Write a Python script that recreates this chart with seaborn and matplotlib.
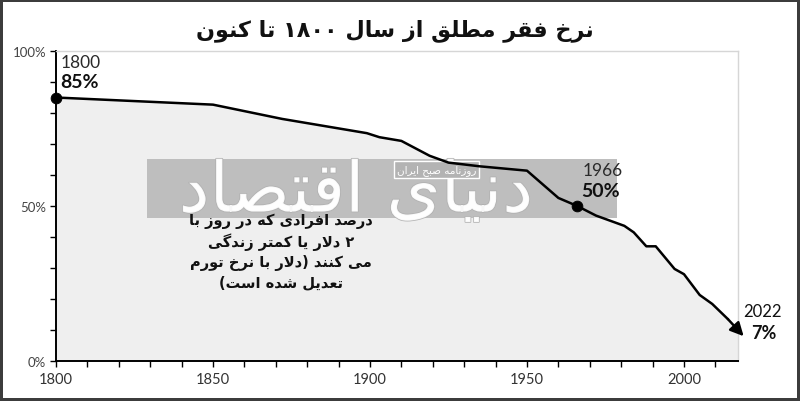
import re
import matplotlib
matplotlib.use('Agg')
import matplotlib.pyplot as plt
import matplotlib.patheffects as pe
from matplotlib.patches import Rectangle
from matplotlib.ticker import MultipleLocator, FuncFormatter
import seaborn as sns
import pandas as pd

# داده ها (خوانده شده از تصویر)
years = [1800, 1850, 1872, 1899, 1903, 1910, 1919, 1925, 1935, 1950, 1960, 1966,
         1972, 1981, 1984, 1988, 1991, 1997, 2000, 2005, 2009, 2014, 2019]
poverty = [85, 82.7, 78.1, 73.5, 72.2, 71, 66.2, 64, 62.8, 61.4, 52.6, 50,
           46.9, 43.6, 41.5, 37, 37, 29.7, 28, 21.3, 18.4, 13.5, 8]
marked_years = [1800, 1966]
marked_values = [85, 50]
marked_labels = ['1800', '1966']
marked_pcts = ['85%', '50%']
end_label = '2022'
end_pct = '7%'
x_ticks = [1800, 1850, 1900, 1950, 2000]
y_ticks = [0, 50, 100]

title = 'نرخ فقر مطلق از سال ۱۸۰۰ تا کنون'
note = 'درصد افرادی که در روز با\n۲ دلار یا کمتر زندگی\nمی کنند (دلار با نرخ تورم\nتعدیل شده است)'
wm_big = 'دنیای اقتصاد'
wm_small = 'روزنامه صبح ایران'

# شکل دهی ساده حروف فارسی (matplotlib خودش این کار را نمی کند)
DUAL = {
    'ب': 'ﺏﺐﺑﺒ', 'پ': 'ﭖﭗﭘﭙ', 'ت': 'ﺕﺖﺗﺘ', 'ث': 'ﺙﺚﺛﺜ', 'ج': 'ﺝﺞﺟﺠ',
    'چ': 'ﭺﭻﭼﭽ', 'ح': 'ﺡﺢﺣﺤ', 'خ': 'ﺥﺦﺧﺨ', 'س': 'ﺱﺲﺳﺴ', 'ش': 'ﺵﺶﺷﺸ',
    'ص': 'ﺹﺺﺻﺼ', 'ض': 'ﺽﺾﺿﻀ', 'ط': 'ﻁﻂﻃﻄ', 'ظ': 'ﻅﻆﻇﻈ', 'ع': 'ﻉﻊﻋﻌ',
    'غ': 'ﻍﻎﻏﻐ', 'ف': 'ﻑﻒﻓﻔ', 'ق': 'ﻕﻖﻗﻘ', 'ک': 'ﮎﮏﮐﮑ', 'گ': 'ﮒﮓﮔﮕ',
    'ل': 'ﻝﻞﻟﻠ', 'م': 'ﻡﻢﻣﻤ', 'ن': 'ﻥﻦﻧﻨ', 'ه': 'ﻩﻪﻫﻬ', 'ی': 'ﯼﯽﯾﯿ',
}
RIGHT = {
    'ا': 'ﺍﺎ', 'آ': 'ﺁﺂ', 'د': 'ﺩﺪ', 'ذ': 'ﺫﺬ', 'ر': 'ﺭﺮ', 'ز': 'ﺯﺰ',
    'ژ': 'ﮊﮋ', 'و': 'ﻭﻮ',
}


def shape_line(s):
    res = []
    i, n = 0, len(s)
    while i < n:
        c = s[i]
        prev = s[i - 1] if i > 0 else ''
        nxt = s[i + 1] if i + 1 < n else ''
        link_prev = prev in DUAL
        if c == 'ل' and nxt == 'ا':
            res.append('ﻼ' if link_prev else 'ﻻ')
            i += 2
            continue
        if c in DUAL:
            link_next = nxt in DUAL or nxt in RIGHT
            f = DUAL[c]
            if link_prev and link_next:
                res.append(f[3])
            elif link_next:
                res.append(f[2])
            elif link_prev:
                res.append(f[1])
            else:
                res.append(f[0])
        elif c in RIGHT:
            res.append(RIGHT[c][1] if link_prev else RIGHT[c][0])
        else:
            res.append(c)
        i += 1
    vis = ''.join(res)[::-1]
    vis = re.sub('[0-9۰-۹]+', lambda m: m.group(0)[::-1], vis)
    vis = vis.translate(str.maketrans('()', ')('))
    return vis


def fa(s):
    return '\n'.join(shape_line(l) for l in s.split('\n'))


sns.set_style('white')
plt.rcParams['font.family'] = ['DejaVu Sans']

df = pd.DataFrame({'year': years, 'poverty': poverty})

fig = plt.figure(figsize=(8, 4.02), dpi=100, edgecolor='#3c3c3c', linewidth=4)
ax = fig.add_axes([0.07, 0.0995, 0.8525, 0.7711])

ax.fill_between(df['year'], df['poverty'], 0, color='#efefef', zorder=1, lw=0)

# واترمارک
ax.add_patch(Rectangle((0.133, 0.461), 0.69, 0.191, transform=ax.transAxes,
                       facecolor='#bebebe', edgecolor='none', zorder=2))
ax.text(0.44, 0.545, fa(wm_big), transform=ax.transAxes, ha='center', va='center',
        fontsize=50, color='white', alpha=0.9, zorder=3,
        path_effects=[pe.withStroke(linewidth=1.2, foreground='#b0b0b0')])
ax.text(0.558, 0.618, fa(wm_small), transform=ax.transAxes, ha='center', va='center',
        fontsize=7.5, color='white', zorder=4,
        bbox=dict(boxstyle='square,pad=0.3', facecolor='#b3b3b3', edgecolor='white', lw=1))

sns.lineplot(data=df.iloc[:-1], x='year', y='poverty', color='black', lw=1.8,
             ax=ax, zorder=5)
ax.annotate('', xy=(years[-1], poverty[-1]), xytext=(years[-2], poverty[-2]),
            arrowprops=dict(arrowstyle='-|>', color='black', lw=1.8, mutation_scale=20,
                            shrinkA=0, shrinkB=0),
            annotation_clip=False, zorder=5)

sns.scatterplot(x=marked_years, y=marked_values, color='black', s=60, ax=ax,
                zorder=6, clip_on=False, edgecolor='black')
for xv, yv, yl, pl in zip(marked_years, marked_values, marked_labels, marked_pcts):
    ax.annotate(yl, (xv, yv), xytext=(5, 36), textcoords='offset pixels',
                fontsize=12.5, family='Lato', color='#2a2a2a',
                va='center', ha='left', zorder=7)
    ax.annotate(pl, (xv, yv), xytext=(4, 16), textcoords='offset pixels',
                fontsize=14, family='Lato', fontweight='bold', color='#111111',
                va='center', ha='left', zorder=7)
ax.annotate(end_label, (years[-1], poverty[-1]), xytext=(19, 25), textcoords='offset pixels',
            fontsize=12, family='Lato', color='#111111', ha='center', va='center',
            annotation_clip=False)
ax.annotate(end_pct, (years[-1], poverty[-1]), xytext=(20, 4), textcoords='offset pixels',
            fontsize=13, family='Lato', fontweight='bold', color='#111111',
            ha='center', va='center', annotation_clip=False)

ax.text(0.33, 0.355, fa(note), transform=ax.transAxes, ha='center', va='center',
        multialignment='center', fontsize=10.5, fontweight='bold', color='#111111',
        linespacing=1.35, zorder=7)

ax.set_xlim(1800, 2017.2)
ax.set_ylim(0, 100)
ax.set_xticks(x_ticks)
ax.set_yticks(y_ticks)
ax.xaxis.set_minor_locator(MultipleLocator(10))
ax.yaxis.set_minor_locator(MultipleLocator(10))
ax.yaxis.set_major_formatter(FuncFormatter(lambda v, p: f'{v:.0f}%'))
ax.set_xlabel('')
ax.set_ylabel('')
ax.tick_params(axis='both', which='both', direction='out', length=4, width=1,
               color='black', bottom=True, left=True)
ax.tick_params(axis='x', labelsize=10.5, labelcolor='#333333', pad=4)
ax.tick_params(axis='y', labelsize=9.5, labelcolor='#444444', pad=3)
for lab in ax.get_xticklabels() + ax.get_yticklabels():
    lab.set_family('Lato')
for s in ['left', 'bottom']:
    ax.spines[s].set_color('black')
    ax.spines[s].set_linewidth(1.4)
for s in ['top', 'right']:
    ax.spines[s].set_color('#d6d6d6')
    ax.spines[s].set_linewidth(1)

fig.text(0.494, 0.925, fa(title), ha='center', va='center', fontsize=16,
         fontweight='bold', color='#111111')

fig.savefig('out.png', dpi=100)
